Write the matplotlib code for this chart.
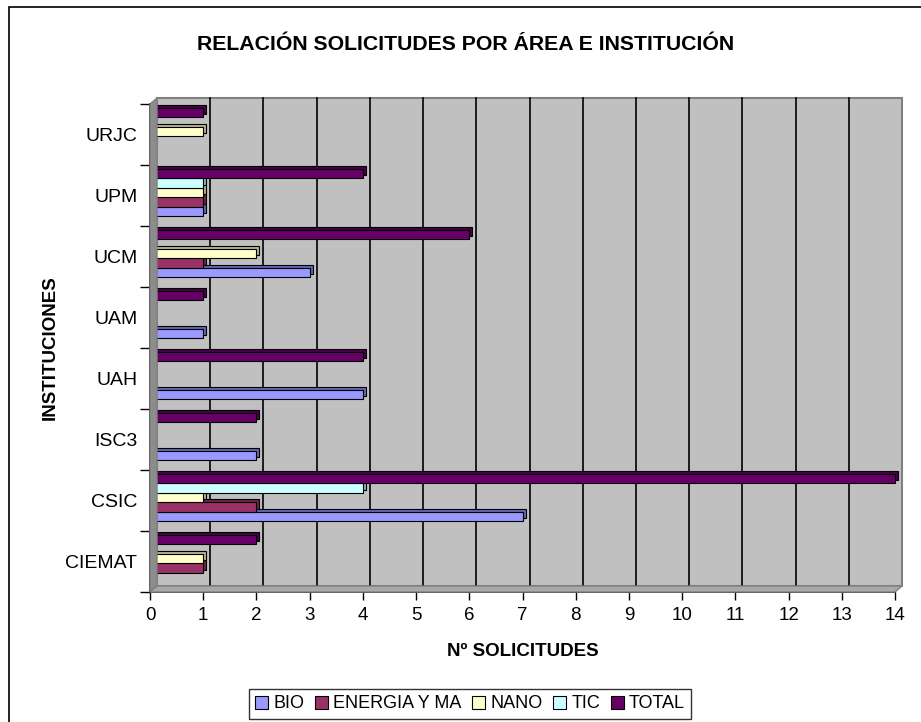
import matplotlib
matplotlib.use("Agg")
import matplotlib.pyplot as plt
import matplotlib.transforms as mtransforms
from matplotlib.patches import Polygon, Rectangle
import numpy as np

plt.rcParams["font.family"] = ["Liberation Sans", "DejaVu Sans"]

# %%
# Data
# ----
institutions = ["CIEMAT", "CSIC", "ISC3", "UAH", "UAM", "UCM", "UPM", "URJC"]
series_names = ["BIO", "ENERGIA Y MA", "NANO", "TIC", "TOTAL"]
bio = [0, 7, 2, 4, 1, 3, 1, 0]
energia = [1, 2, 0, 0, 0, 1, 1, 0]
nano = [1, 1, 0, 0, 0, 2, 1, 1]
tic = [0, 4, 0, 0, 0, 0, 1, 0]
total = [2, 14, 2, 4, 1, 6, 4, 1]
x_ticks = list(range(0, 15))

colors = ["#9999FF", "#993366", "#FFFFCC", "#CCFFFF", "#660066"]
side_colors = ["#6666B3", "#6B2447", "#B3B38F", "#8FB3B3", "#470047"]

DPI = 100
fig = plt.figure(figsize=(9.21, 7.22), dpi=DPI)
W, H = 921, 722
ax = fig.add_axes([150 / W, (H - 592) / H, 745 / W, 488 / H])
ax.set_xlim(0, 14)
ax.set_ylim(-0.5, len(institutions) - 0.5)
ax.set_facecolor("none")

def shift(dx, dy):
    return mtransforms.ScaledTranslation(dx / DPI, dy / DPI, fig.dpi_scale_trans)

# 3D walls (depth in pixels)
WX, WY = 7, 6
back = ax.transData + shift(WX, WY)
ax.add_patch(Rectangle((0, -0.5), 14, len(institutions), transform=back,
                       facecolor="#C0C0C0", edgecolor="#808080", lw=1.5,
                       zorder=0, clip_on=False))

fig.canvas.draw()
td = ax.transData
p00 = td.transform((0, -0.5))
p01 = td.transform((0, len(institutions) - 0.5))
p10 = td.transform((14, -0.5))
side = Polygon([p00, p01, p01 + [WX, WY], p00 + [WX, WY]], closed=True,
               transform=None, facecolor="#8C8C8C", edgecolor="#808080",
               lw=1, zorder=0.5, clip_on=False)
floor = Polygon([p00, p10, p10 + [WX, WY], p00 + [WX, WY]], closed=True,
                transform=None, facecolor="#A8A8A8", edgecolor="#808080",
                lw=1, zorder=0.5, clip_on=False)
fig.add_artist(side)
fig.add_artist(floor)

# gridlines on back wall + floor diagonals
for xv in x_ticks[1:-1]:
    ax.plot([xv, xv], [-0.5, len(institutions) - 0.5], color="black", lw=1.2,
            transform=back, zorder=0.6, clip_on=False)
for xv in x_ticks:
    a = td.transform((xv, -0.5))
    fig.add_artist(plt.Line2D([a[0], a[0] + WX], [a[1], a[1] + WY],
                              color="#606060", lw=1, zorder=0.6))

# %%
# Bars
# ----
values = [bio, energia, nano, tic, total]
y = np.arange(len(institutions))
h = 0.154
BX, BY = 3, 3
for j, (vals, name) in enumerate(zip(values, series_names)):
    ypos = y + (j - 2) * h + 0.05
    ax.barh(ypos, vals, height=h, color=side_colors[j], edgecolor="black",
            lw=0.8, transform=ax.transData + shift(BX, BY), zorder=2 + j * 0.1,
            clip_on=False)
    ax.barh(ypos, vals, height=h, color=colors[j], edgecolor="black", lw=0.8,
            label=name, zorder=2.05 + j * 0.1, clip_on=False)

# %%
# Axes styling
# ------------
for s in ["top", "right"]:
    ax.spines[s].set_visible(False)
for s in ["left", "bottom"]:
    ax.spines[s].set_color("black")
    ax.spines[s].set_linewidth(1.2)
    ax.spines[s].set_zorder(3)

ax.set_xticks(x_ticks)
ax.tick_params(axis="x", length=6, width=1, pad=5, labelsize=13.5)
ax.set_yticks(y)
ax.set_yticklabels(institutions)
ax.set_yticks(np.arange(-0.5, len(institutions)), minor=True)
ax.tick_params(axis="y", which="major", length=0, pad=9, labelsize=14)
ax.tick_params(axis="y", which="minor", length=7, width=1)

ax.set_xlabel("Nº SOLICITUDES", fontsize=13.5, fontweight="bold", va="center")
ax.xaxis.set_label_coords(0.5, (592 - 652) / 488)
ax.set_ylabel("INSTITUCIONES", fontsize=13.5, fontweight="bold", va="center")
ax.yaxis.set_label_coords((50 - 150) / 745, 0.5)
fig.text(466 / W, 1 - 44 / H, "RELACIÓN SOLICITUDES POR ÁREA E INSTITUCIÓN",
         ha="center", va="center", fontsize=15.3, fontweight="bold")

leg = fig.legend(loc="center", bbox_to_anchor=(470 / W, 1 - 704 / H), ncol=5,
                 fontsize=13, frameon=True, fancybox=False, handlelength=0.7,
                 handleheight=0.7, handletextpad=0.3, columnspacing=0.6,
                 borderpad=0.35, borderaxespad=0)
leg.get_frame().set_edgecolor("black")
leg.get_frame().set_linewidth(1)
for hnd in leg.legend_handles:
    hnd.set_linewidth(0.8)

# outer chart border
fig.add_artist(Rectangle((9 / W, -0.1), 1.2, 1.1 - 7 / H, transform=fig.transFigure,
                         fill=False, edgecolor="black", lw=1.2))

fig.savefig("out.png", dpi=DPI)
